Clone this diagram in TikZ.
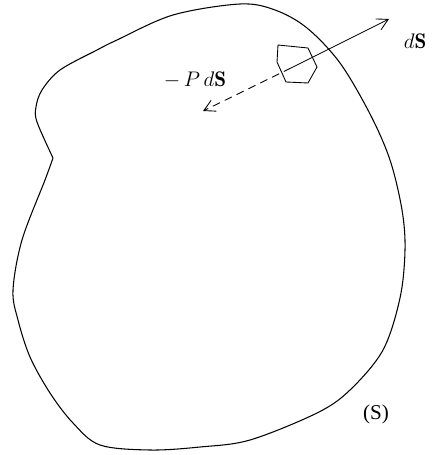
\documentclass[tikz,border=0pt]{standalone}
\usepackage{amsmath}
\usepackage{fontspec}
\newfontfamily\labelfont{Liberation Serif}
\usetikzlibrary{arrows.meta}

\begin{document}
\begin{tikzpicture}[x=0.02cm, y=-0.02cm, >={Straight Barb[length=2.2mm, width=2.4mm]},
    thinline/.style={line width=0.5pt}]
    \useasboundingbox (0,0) rectangle (434,455);
    % outline of the surface S
    \draw[line width=0.6pt] plot[smooth, tension=0.55] coordinates {
        (53,158) (37,122) (36,107) (42,90) (60,70) (97,50) (117,40) (173,15)
        (240,4) (275,10) (307,28) (340,63) (370,114) (390,160) (402,210)
        (405,250) (400,298) (383,350) (350,390) (317,413) (250,440) (200,447)
        (150,450) (100,445) (73,423) (50,393) (30,357) (18,320) (13,290)
        (22,240) (45,180) (53,158)};
    % small surface element
    \draw[thinline] (278,45) -- (308,48) -- (317,67) -- (308,83) -- (286,82) -- (277,62) -- cycle;
    \coordinate (c) at (291,68);
    \coordinate (n) at (389,19);
    \coordinate (f) at (203,111);
    \draw[thinline, ->] (c) -- (n);
    \draw[thinline, ->, dash pattern=on 4.5pt off 3pt] (c) -- (f);
    \node[font=\large] (ds) at (415,41) {$d\mathbf{S}$};
    \node[font=\large] (pds) at (195,80) {$-\,P\,d\mathbf{S}$};
    \node[font=\large\labelfont] (s) at (376,414) {(S)};
\end{tikzpicture}
\end{document}
